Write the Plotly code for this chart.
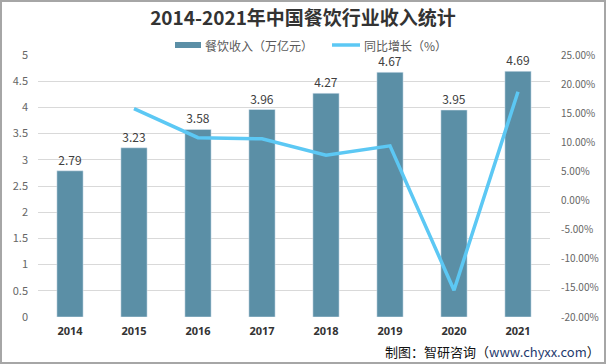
import plotly.graph_objects as go

years = ["2014", "2015", "2016", "2017", "2018", "2019", "2020", "2021"]
revenue = [2.79, 3.23, 3.58, 3.96, 4.27, 4.67, 3.95, 4.69]
growth_years = ["2015", "2016", "2017", "2018", "2019", "2020", "2021"]
growth = [15.8, 10.8, 10.6, 7.8, 9.4, -15.4, 18.7]
left_ticks = [0, 0.5, 1, 1.5, 2, 2.5, 3, 3.5, 4, 4.5, 5]
right_ticks = [-20, -15, -10, -5, 0, 5, 10, 15, 20, 25]

BAR = "#5B8FA6"
LINE = "#5CC8F4"
FONT = "Noto Sans CJK SC, Microsoft YaHei, sans-serif"

W, H = 606, 364
L, R, T, B = 38, 56, 55, 47
PW, PH = W - L - R, H - T - B


def px(x):
    return (x - L) / PW


def py(y):
    return (H - B - y) / PH


fig = go.Figure()
fig.add_trace(go.Bar(
    x=years, y=revenue, marker_color=BAR, width=0.41,
    text=[f"{v:.2f}" for v in revenue], textposition="outside",
    textfont=dict(size=12, color="#404040", family=FONT),
    cliponaxis=False, showlegend=False, hoverinfo="x+y",
))
fig.add_trace(go.Scatter(
    x=growth_years, y=growth, yaxis="y2", mode="lines",
    line=dict(color=LINE, width=3.5), showlegend=False,
))

fig.update_layout(
    width=W, height=H, margin=dict(l=L, r=R, t=T, b=B, autoexpand=False),
    paper_bgcolor="white", plot_bgcolor="white",
    font=dict(family=FONT, size=11, color="#595959"),
    xaxis=dict(type="category", showgrid=False, showline=False, ticks="",
               tickfont=dict(size=11, color="#333333", family="Noto Sans, " + FONT, weight="bold"),
               ticklabelstandoff=6),
    yaxis=dict(range=[0, 5], tickvals=left_ticks, ticktext=[f"{v:g}" for v in left_ticks],
               showgrid=True, gridcolor="#D9D9D9", gridwidth=1, zeroline=False,
               showline=False, tickfont=dict(size=11, color="#666666"),
               ticklabelstandoff=9),
    yaxis2=dict(range=[-20, 25], tickvals=right_ticks,
                ticktext=[f"{v:.2f}%" for v in right_ticks], overlaying="y", side="right",
                showgrid=False, zeroline=False, showline=False,
                tickfont=dict(size=10, color="#666666"), ticklabelstandoff=10),
    title=dict(text="<b>2014-2021年中国餐饮行业收入统计</b>", x=0.5, xanchor="center",
               y=1 - 18 / H, yanchor="middle",
               font=dict(size=19, color="#333333", family=FONT)),
)

shapes = [
    dict(type="rect", xref="paper", yref="paper", x0=px(1), x1=px(605), y0=py(363), y1=py(1),
         line=dict(color="#A6A6A6", width=2), fillcolor="rgba(0,0,0,0)", layer="below"),
    dict(type="rect", xref="paper", yref="paper", x0=px(175), x1=px(201), y0=py(48), y1=py(42),
         line=dict(width=0), fillcolor=BAR),
    dict(type="line", xref="paper", yref="paper", x0=px(332), x1=px(360), y0=py(45), y1=py(45),
         line=dict(color=LINE, width=3.5)),
]
annotations = [
    dict(text="餐饮收入（万亿元）", xref="paper", yref="paper", x=px(203), y=py(45),
         xanchor="left", yanchor="middle", showarrow=False,
         font=dict(size=12, color="#595959", family=FONT)),
    dict(text="同比增长（%）", xref="paper", yref="paper", x=px(362), y=py(45),
         xanchor="left", yanchor="middle", showarrow=False,
         font=dict(size=12, color="#595959", family=FONT)),
    dict(text="制图：智研咨询（<span style='color:#1F3A6E'>www.chyxx.com</span>）",
         xref="paper", yref="paper", x=px(602), y=py(351), xanchor="right", yanchor="middle",
         showarrow=False, font=dict(size=13, color="#111111", family=FONT)),
]
fig.update_layout(shapes=shapes, annotations=annotations)

fig.write_html("out.html", config={"displayModeBar": False},
               post_script="document.body.style.margin='0';document.body.style.overflow='hidden';")
